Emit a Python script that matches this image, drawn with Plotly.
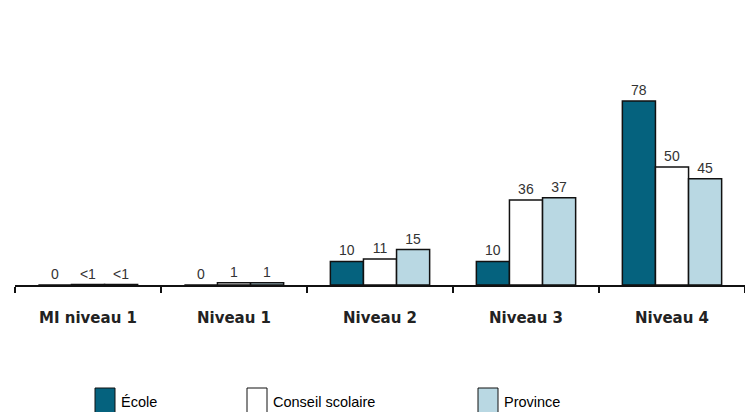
import plotly.graph_objects as go

categories = ["MI niveau 1", "Niveau 1", "Niveau 2", "Niveau 3", "Niveau 4"]
series_names = ["École", "Conseil scolaire", "Province"]
ecole = [0, 0, 10, 10, 78]
conseil = [0.2, 1, 11, 36, 50]
province = [0.2, 1, 15, 37, 45]
ecole_text = ["0", "0", "10", "10", "78"]
conseil_text = ["<1", "1", "11", "36", "50"]
province_text = ["<1", "1", "15", "37", "45"]

colors = ["#05627E", "#FFFFFF", "#B9D8E3"]

# page body has an 8px margin; figure sized/margined so the plot lands at
# window x 15..745, y 49..285
W, H = 745, 404
ML, MR, MT, MB = 7, 8, 41, 127
PW, PH = W - ML - MR, H - MT - MB

fig = go.Figure()
for name, vals, txt, col in zip(series_names, [ecole, conseil, province],
                                [ecole_text, conseil_text, province_text], colors):
    fig.add_trace(go.Bar(
        x=categories, y=vals, name=name, text=txt, textposition="outside",
        textfont=dict(family="Liberation Sans, Arial", size=14, color="#333333"),
        marker=dict(color=col, line=dict(color="#111111", width=1.5)),
        cliponaxis=False, showlegend=False,
    ))

# manual legend (boxes + labels); window pixel positions converted to paper
def px_x(x):
    return (x - 8 - ML) / PW

def px_y(y):
    return (H - MB - (y - 8)) / PH

legend_x = [95, 247, 478]
for name, col, lx in zip(series_names, colors, legend_x):
    fig.add_shape(type="rect", xref="paper", yref="paper",
                  x0=px_x(lx), x1=px_x(lx + 20),
                  y0=px_y(416), y1=px_y(388),
                  fillcolor=col, line=dict(color="#111111", width=1))
    fig.add_annotation(xref="paper", yref="paper", x=px_x(lx + 24),
                       y=px_y(402), text=name, showarrow=False,
                       xanchor="left", yanchor="middle",
                       font=dict(family="Liberation Sans, Arial", size=14.5, color="#000000"))

fig.update_layout(
    width=W, height=H,
    margin=dict(l=ML, r=MR, t=MT, b=MB),
    plot_bgcolor="white", paper_bgcolor="white",
    barmode="group", bargap=0.32, bargroupgap=0,
    xaxis=dict(showline=True, linecolor="#111111", linewidth=1.5,
               ticks="outside", ticklen=6, tickcolor="#111111", tickwidth=1.5,
               tickson="boundaries", showgrid=False, ticklabelstandoff=18,
               tickfont=dict(family="DejaVu Sans", size=15, color="#222222", weight="bold")),
    yaxis=dict(range=[0, 100], visible=False, showgrid=False, zeroline=False),
)

fig.write_html("out.html")
